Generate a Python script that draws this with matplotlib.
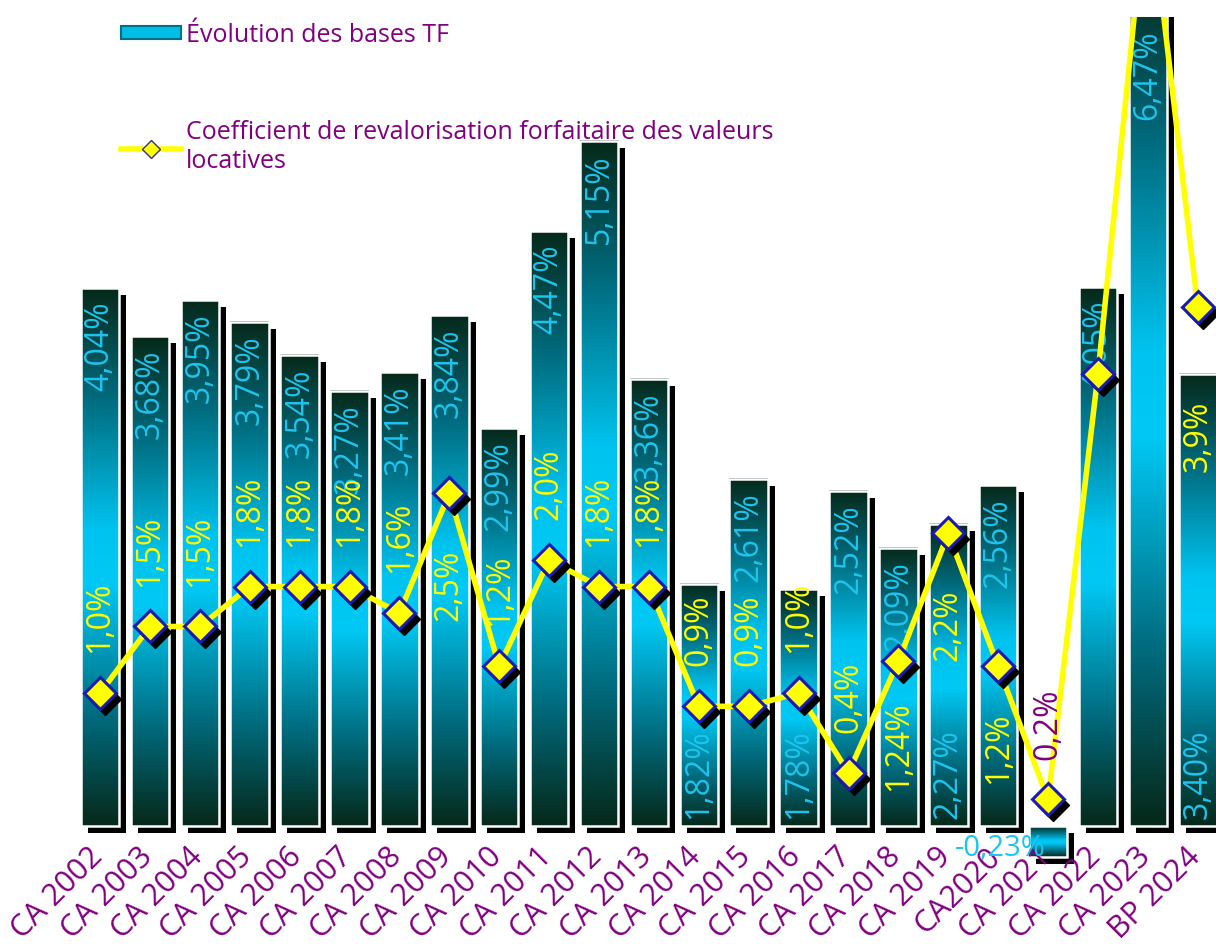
import numpy as np
import matplotlib.pyplot as plt
from matplotlib.colors import LinearSegmentedColormap
from matplotlib.patches import Rectangle
from matplotlib.lines import Line2D
from matplotlib.transforms import offset_copy

plt.rcParams['font.family'] = ['Open Sans', 'DejaVu Sans']

annees = ['CA 2002', 'CA 2003', 'CA 2004', 'CA 2005', 'CA 2006', 'CA 2007', 'CA 2008',
          'CA 2009', 'CA 2010', 'CA 2011', 'CA 2012', 'CA 2013', 'CA 2014', 'CA 2015',
          'CA 2016', 'CA 2017', 'CA 2018', 'CA 2019', 'CA2020', 'CA 2021', 'CA 2022',
          'CA 2023', 'BP 2024']
bases_tf = [4.04, 3.68, 3.95, 3.79, 3.54, 3.27, 3.41, 3.84, 2.99, 4.47, 5.15, 3.36,
            1.82, 2.61, 1.78, 2.52, 2.09, 2.27, 2.56, -0.23, 4.05, 6.47, 3.40]
coef = [1.0, 1.5, 1.5, 1.8, 1.8, 1.8, 1.6, 2.5, 1.2, 2.0, 1.8, 1.8,
        0.9, 0.9, 1.0, 0.4, 1.24, 2.2, 1.2, 0.2, 3.4, 7.1, 3.9]
coef_txt = ['1,0%', '1,5%', '1,5%', '1,8%', '1,8%', '1,8%', '1,6%', '2,5%', '1,2%', '2,0%',
            '1,8%', '1,8%', '0,9%', '0,9%', '1,0%', '0,4%', '1,24%', '2,2%', '1,2%', '0,2%',
            '', '', '3,9%']

# placement des etiquettes
bas_dans_barre = ['CA 2014', 'CA 2016', 'CA 2019', 'BP 2024']
coef_dessous = {'CA 2009': 0.42, 'CA 2018': 0.3, 'CA 2019': 0.42, 'CA2020': 0.35, 'BP 2024': 0.7}

violet = '#800080'
cyan = '#1ec4ee'
jaune = '#ffff00'

fig = plt.figure(figsize=(12.16, 9.5), dpi=100)
ax = fig.add_axes([0, 84 / 950, 1, 849 / 950])

x = np.arange(len(annees))
w = 0.77
ytop = 6.08

cmap = LinearSegmentedColormap.from_list('barre', [
    (0.0, '#06291a'), (0.2, '#016a7c'), (0.45, '#00c4f0'),
    (0.55, '#00c8f4'), (0.8, '#016a7c'), (1.0, '#06291a')])
grad = np.linspace(0, 1, 256).reshape(-1, 1)

ombre = offset_copy(ax.transData, fig=fig, x=7, y=-7, units='dots')
ax.bar(x, bases_tf, width=w, color='black', transform=ombre, zorder=1)
for i, v in enumerate(bases_tf):
    ax.imshow(grad, extent=(i - w / 2, i + w / 2, min(0, v), max(0, v)), cmap=cmap,
              aspect='auto', interpolation='bilinear', zorder=2)
ax.bar(x, bases_tf, width=w, facecolor='none', edgecolor='white', linewidth=1.8, zorder=3)

for i, v in enumerate(bases_tf):
    txt = ('%.2f%%' % v).replace('.', ',')
    if v < 0:
        ax.text(i - 0.95, v / 2 - 0.05, txt, color=cyan, fontsize=21, ha='center', va='center', zorder=4)
    elif annees[i] in bas_dans_barre:
        ax.text(i, 0.05, txt, color=cyan, fontsize=23, rotation=90, ha='center', va='bottom', zorder=4)
    else:
        ax.text(i, min(v, ytop) - 0.1, txt, color=cyan, fontsize=23, rotation=90,
                ha='center', va='top', zorder=4, clip_on=True)

ax.plot(x, coef, '-', color=jaune, linewidth=4, zorder=5)
ax.plot(x, coef, 'D', color='black', markersize=16, transform=offset_copy(ax.transData, fig=fig, x=5, y=-6, units='dots'), zorder=6)
ax.plot(x, coef, 'D', markerfacecolor=jaune, markeredgecolor='#1a1ab4', markeredgewidth=2.2,
        markersize=16, linestyle='none', zorder=7)

for i, v in enumerate(coef):
    t = coef_txt[i]
    if not t:
        continue
    c = violet if annees[i] == 'CA 2021' else jaune
    if annees[i] in coef_dessous:
        ax.text(i, v - coef_dessous[annees[i]], t, color=c, fontsize=23, rotation=90,
                ha='center', va='top', zorder=8)
    else:
        ax.text(i, v + 0.3, t, color=c, fontsize=23, rotation=90,
                ha='center', va='bottom', zorder=8)

for i, lab in enumerate(annees):
    ax.text(i - 0.25, -0.12, lab, color=violet, fontsize=22, rotation=45, ha='right', va='top',
            rotation_mode='anchor', clip_on=False)

ax.set_xlim(-100 / 49.9, (1216 - 100) / 49.9)
ax.set_ylim(-0.3, ytop)
ax.axis('off')

poignees = [Rectangle((0, 0), 1, 1, facecolor='#00bfe6', edgecolor='#00708a', linewidth=1.5),
            Line2D([], [], color=jaune, linewidth=4, marker='D', markersize=9,
                   markerfacecolor=jaune, markeredgecolor='#3030a0', markeredgewidth=1)]
leg = fig.legend(poignees, ['Évolution des bases TF',
                            'Coefficient de revalorisation forfaitaire des valeurs\nlocatives'],
                 loc='upper left', bbox_to_anchor=(98 / 1216, 1 - 0 / 950), frameon=False,
                 fontsize=18, labelcolor=violet, handlelength=2.4, handleheight=0.4,
                 labelspacing=2.9, handletextpad=0.2)

fig.savefig('out.png', dpi=100)
